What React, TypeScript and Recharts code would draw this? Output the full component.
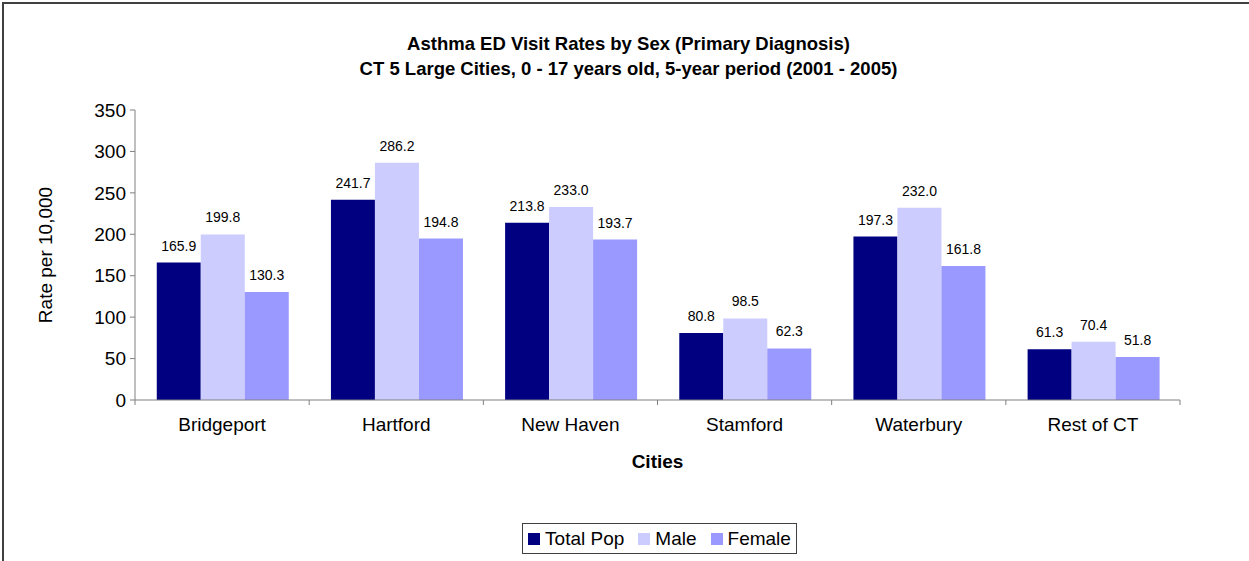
import React from 'react';
import { BarChart, Bar, XAxis, YAxis, LabelList } from 'recharts';

// values
const cities = ['Bridgeport', 'Hartford', 'New Haven', 'Stamford', 'Waterbury', 'Rest of CT'];
const totalPop = [165.9, 241.7, 213.8, 80.8, 197.3, 61.3];
const male = [199.8, 286.2, 233.0, 98.5, 232.0, 70.4];
const female = [130.3, 194.8, 193.7, 62.3, 161.8, 51.8];
const yTicks = [0, 50, 100, 150, 200, 250, 300, 350];

const series = [
  { key: 'total', name: 'Total Pop', color: '#000080' },
  { key: 'male', name: 'Male', color: '#CCCCFF' },
  { key: 'female', name: 'Female', color: '#9999FF' },
];

const data = cities.map((city, i) => ({
  city,
  total: totalPop[i],
  male: male[i],
  female: female[i],
}));

const font = 'Arial, "Liberation Sans", sans-serif';

// category label plus the small boundary tick marks Excel draws between categories
const CityTick = (props: any) => {
  const { x, y, payload, index, visibleTicksCount } = props;
  const half = payload && payload.offset ? payload.offset : 0;
  const axisY = y - 18;
  return (
    <g>
      <line x1={x - half} x2={x - half} y1={axisY} y2={axisY + 5} stroke="#808080" />
      {index === visibleTicksCount - 1 && (
        <line x1={x + half} x2={x + half} y1={axisY} y2={axisY + 5} stroke="#808080" />
      )}
      <text x={x} y={y} dy="0.71em" textAnchor="middle" fill="#000" fontSize={19} fontFamily={font}>
        {payload.value}
      </text>
    </g>
  );
};

export default function App() {
  return (
    <div
      style={{
        position: 'absolute',
        left: 0,
        top: 0,
        width: 1249,
        height: 561,
        overflow: 'hidden',
        background: '#fff',
        fontFamily: font,
      }}
    >
      <div
        style={{
          position: 'absolute',
          left: 2,
          top: 2,
          width: 1270,
          height: 580,
          border: '2px solid #404040',
        }}
      />
      <div
        style={{
          position: 'absolute',
          left: 4,
          width: 1249,
          top: 31,
          textAlign: 'center',
          fontWeight: 'bold',
          fontSize: 18.5,
          lineHeight: '25px',
          color: '#000',
        }}
      >
        <div>Asthma ED Visit Rates by Sex (Primary Diagnosis)</div>
        <div>CT 5 Large Cities, 0 - 17 years old, 5-year period (2001 - 2005)</div>
      </div>

      <div style={{ position: 'absolute', left: 0, top: 0 }}>
        <BarChart
          width={1249}
          height={561}
          data={data}
          margin={{ top: 110, right: 69, left: 35, bottom: 91 }}
          barCategoryGap="12.5%"
          barGap={0}
        >
          <XAxis
            dataKey="city"
            height={70}
            stroke="#808080"
            tickLine={false}
            tickSize={6}
            tickMargin={12}
            tick={<CityTick />}
            interval={0}
            label={{
              value: 'Cities',
              position: 'insideBottom',
              offset: 2,
              fill: '#000',
              fontSize: 19,
              fontWeight: 'bold',
              fontFamily: font,
            }}
          />
          <YAxis
            width={100}
            domain={[0, 350]}
            ticks={yTicks}
            interval={0}
            stroke="#808080"
            tickSize={5}
            tickMargin={4}
            tick={{ fill: '#000', fontSize: 19, fontFamily: font }}
            label={{
              value: 'Rate per 10,000',
              angle: -90,
              position: 'insideLeft',
              offset: 10,
              style: { textAnchor: 'middle' },
              fill: '#000',
              fontSize: 19,
              fontFamily: font,
            }}
          />
          {series.map((s) => (
            <Bar key={s.key} dataKey={s.key} name={s.name} fill={s.color} isAnimationActive={false}>
              <LabelList
                dataKey={s.key}
                position="top"
                offset={12}
                formatter={(v: number) => v.toFixed(1)}
                style={{ fill: '#000', fontSize: 14, fontFamily: font }}
              />
            </Bar>
          ))}
        </BarChart>
      </div>

      <div
        style={{
          position: 'absolute',
          left: 522,
          top: 523,
          width: 275,
          height: 31,
          border: '1px solid #404040',
          display: 'flex',
          alignItems: 'center',
          justifyContent: 'center',
          gap: 14,
          fontSize: 19,
          color: '#000',
          boxSizing: 'border-box',
        }}
      >
        {series.map((s) => (
          <div key={s.key} style={{ display: 'flex', alignItems: 'center', gap: 5 }}>
            <span style={{ display: 'inline-block', width: 12, height: 12, background: s.color }} />
            <span>{s.name}</span>
          </div>
        ))}
      </div>
    </div>
  );
}
